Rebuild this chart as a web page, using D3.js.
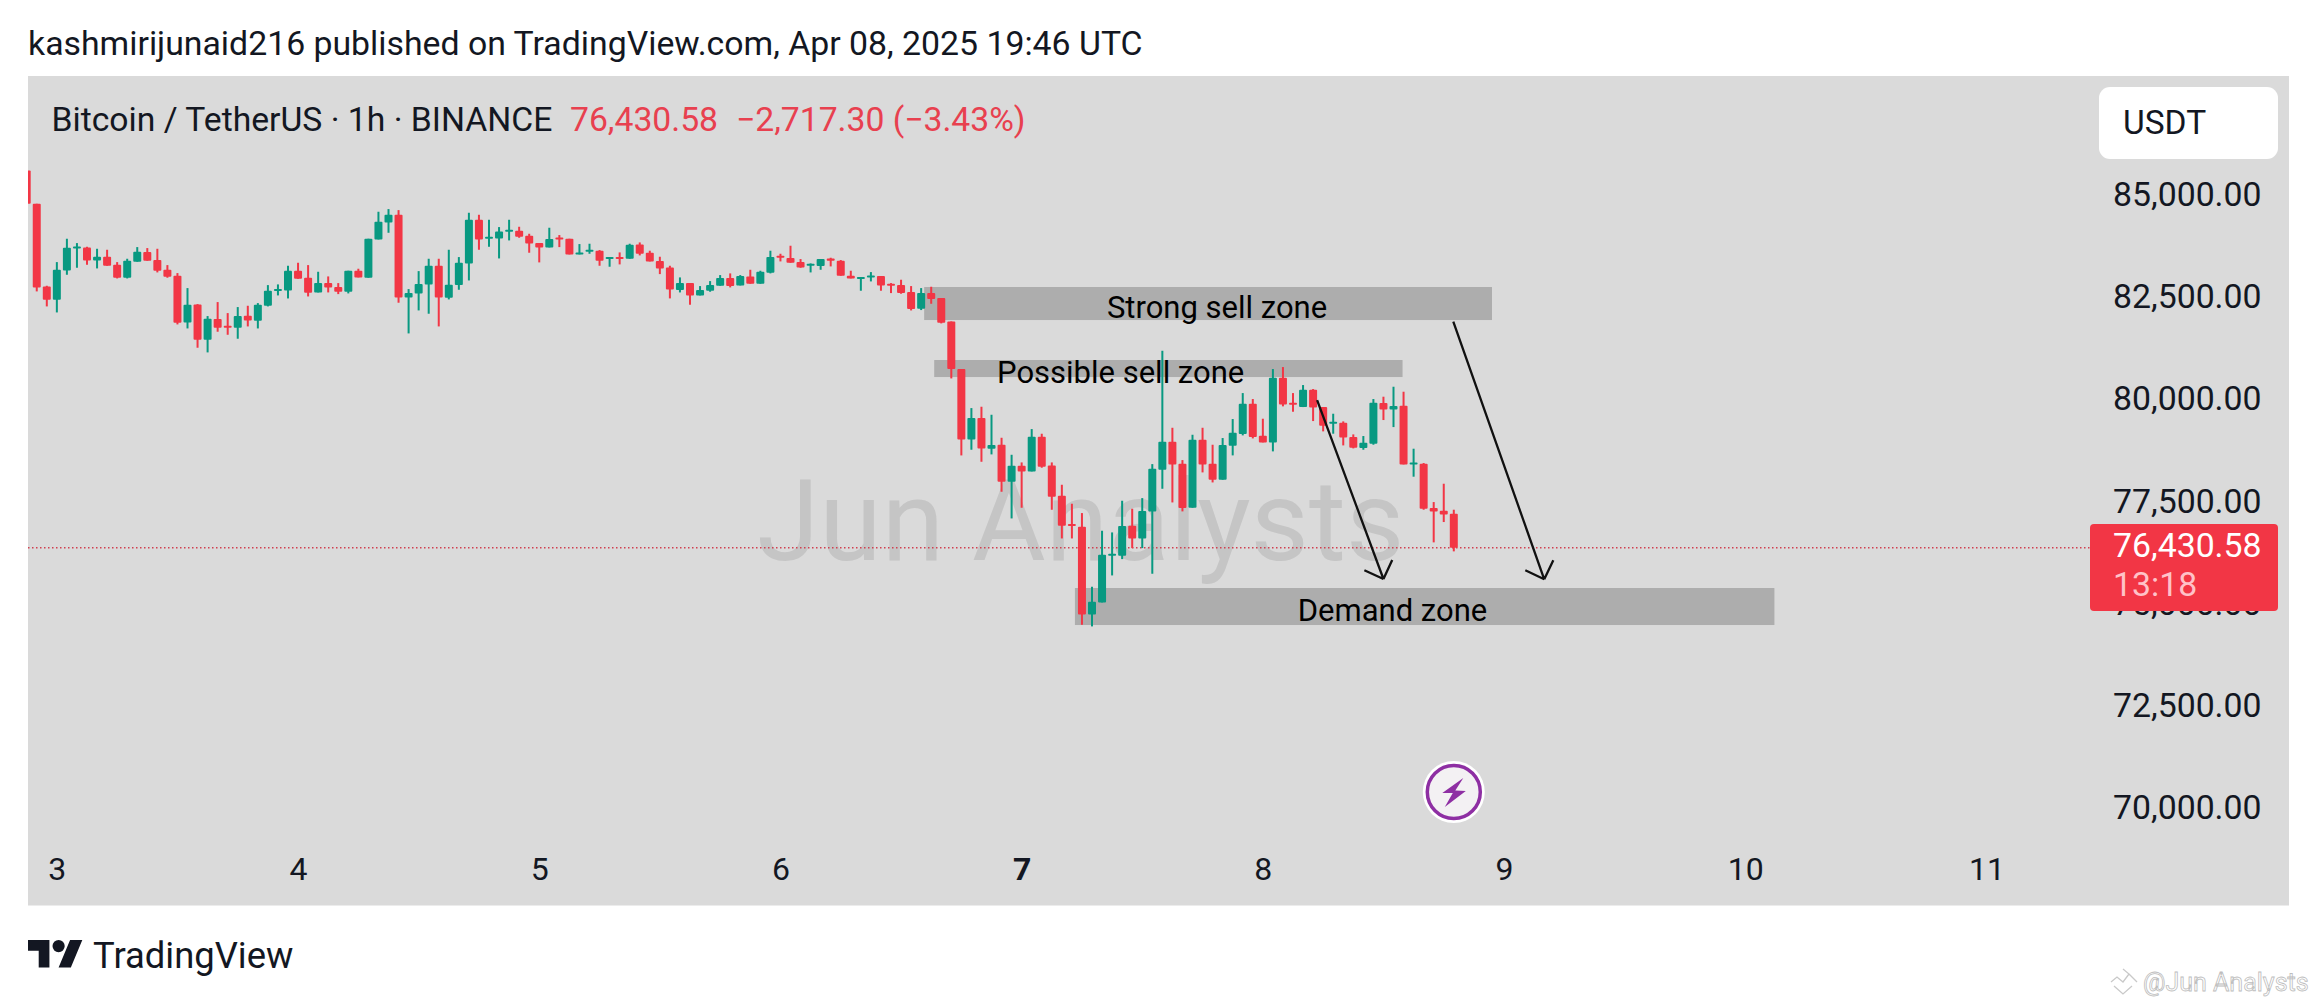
<!DOCTYPE html>
<html>
<head>
<meta charset="utf-8">
<script src="https://cdn.jsdelivr.net/npm/d3@7"></script>
<style>
  html, body { margin: 0; padding: 0; background: #fff; }
  svg { display: block; }
  text { font-family: Roboto, sans-serif; }
</style>
</head>
<body>
<script>
// hourly BTC/USDT candles, index 0 is the clipped one at the left edge
var opens = [85652,84837,82817,82491,83208,83745,83770,83452,83542,83346,83029,83420,83656,83460,83224,83077,81937,82377,81513,82018,
  81855,81807,82100,81978,82344,82711,82719,83200,83029,82670,82898,82800,82686,83200,83029,83965,84381,84568,82548,82646,
  82866,83322,82540,82849,83379,84446,83990,83990,84161,84178,84055,83876,83770,84015,83982,83599,83664,83689,83509,83534,
  83493,83843,83640,83436,83281,82727,82898,82597,82711,82833,83021,82841,83061,82882,83151,83566,83509,83412,83338,83314,
  83501,83444,83078,83021,83053,83070,82882,82850,82678,82271,82654,82532,81961,80796,79077,79599,78849,78947,78043,78434,
  78295,79142,78442,77700,77008,76943,74800,75093,76234,76234,76967,76657,77318,78336,79020,78482,77407,79069,78482,78092,
  78923,79208,79950,79168,79005,80585,79974,79868,80292,79868,79477,79485,79135,78866,78972,79966,79811,79901,78467,78483,
  77400,77335,77261];
var highs = [85652,84837,82833,83411,83982,83876,83786,83737,83713,83411,83493,83778,83754,83737,83338,83143,82776,82385,82092,82434,
  82165,82312,82344,82409,82849,82866,83322,83395,83338,83175,83061,82898,83200,83249,83982,84642,84707,84682,82752,83191,
  83493,83493,83713,83534,84617,84568,84446,84267,84446,84275,84104,83876,84251,84072,83982,83852,83860,83705,83534,83648,
  83860,83892,83689,83542,83322,83037,82898,82825,82947,83094,83135,83094,83224,83200,83689,83615,83811,83485,83379,83485,
  83518,83461,83200,83045,83167,83070,82898,82980,82825,82776,82809,82532,81961,80796,79843,79876,79680,79118,78702,78515,
  79330,79216,78515,77969,77505,77277,75476,76845,76804,77578,77383,77643,78474,81244,79362,78572,79191,79362,78947,79111,
  79575,80210,80064,79583,80797,80846,80210,80406,80308,79868,79705,79518,79200,79160,80064,80121,80365,80243,78850,78500,
  77546,77994,77359];
var lows = [84837,82695,82328,82181,83102,83273,83346,83257,83322,83012,83012,83420,83444,83159,83029,81888,81790,81318,81204,81709,
  81635,81538,81839,81790,82328,82597,82523,83004,82572,82670,82670,82629,82646,83037,83029,83965,84128,82418,81668,82230,
  82149,81839,82499,82735,82963,83713,83786,83501,83941,84006,83640,83404,83770,83778,83599,83599,83615,83322,83298,83355,
  83493,83575,83428,83118,82524,82670,82369,82597,82687,82833,82793,82841,82882,82882,83135,83428,83395,83273,83159,83224,
  83306,83078,83012,82711,82939,82711,82654,82638,82230,82239,82393,81913,80568,78686,78825,78531,78711,77798,77146,77407,
  78295,78385,77358,76657,76657,74547,74507,75093,75753,76152,76421,76421,75794,77871,77537,77318,77407,78271,78026,78092,
  78687,79176,79102,79005,78785,79885,79754,79868,79526,79274,79217,78931,78858,78825,78948,79551,79379,78467,78166,77359,
  76561,77058,76341];
var closes = [84837,82792,82491,83224,83762,83794,83452,83542,83322,83029,83444,83664,83444,83200,83053,81929,82369,81513,82026,81807,
  81807,82092,81986,82369,82711,82752,83200,83004,82662,82898,82792,82686,83200,83037,83982,84397,84568,82548,82654,82874,
  83322,82548,82857,83395,84446,83965,84031,84161,84202,84031,83868,83770,83974,83966,83599,83648,83713,83444,83534,83485,
  83835,83615,83428,83257,82744,82898,82597,82727,82850,83021,82825,83070,82882,83175,83534,83518,83395,83281,83371,83485,
  83444,83078,83012,83045,83086,82841,82850,82654,82263,82654,82507,81929,80796,79077,79599,78857,78939,78043,78434,78295,
  79142,78409,77676,76967,76967,74800,75110,76258,76283,76959,76657,77326,78360,79020,78466,77399,79069,78466,78091,78940,
  79241,79950,79135,79005,80585,79933,79933,80292,79860,79412,79510,79127,78874,78997,79974,79811,79893,78467,78516,77383,
  77318,77245,76430.58];

var priceTicks = [85000, 82500, 80000, 77500, 75000, 72500, 70000];
var dayLabels = ["3", "4", "5", "6", "7", "8", "9", "10", "11"];
var dayBars = [3, 27, 51, 75, 99, 123, 147, 171, 195];
var boldDay = "7";

// drawings on the chart, bar index and price
var zoneNames = ["Strong sell zone", "Possible sell zone", "Demand zone"];
var zoneFrom = [89.3, 90.3, 104.3];
var zoneTo = [145.8, 136.9, 173.9];
var zoneTop = [82802, 81018, 75445];
var zoneBottom = [81995, 80602, 74541];
var zoneLabelBar = [118.44, 108.85, 135.9];

var arrowFrom = [128.4, 141.95];
var arrowTo = [135, 151];
var arrowStart = [80040, 81954];
var arrowEnd = [75666, 75658];

var lastPrice = 76430.58;
var countdown = "13:18";

var w = 2317;
var h = 1004;
var red = "#f23645";
var green = "#089981";

var svg = d3.select("body").append("svg")
    .attr("width", w)
    .attr("height", h);

var x = d3.scaleLinear().domain([0, 142]).range([26.7, 1453.8]);
var y = d3.scaleLinear().domain([70000, 85000]).range([810.8, 197.1]);

//chart background
svg.append("rect")
    .attr("x", 28).attr("y", 76)
    .attr("width", 2261).attr("height", 829.5)
    .attr("fill", "#dadada");

svg.append("clipPath").attr("id", "pane")
  .append("rect")
    .attr("x", 28).attr("y", 76)
    .attr("width", 2062).attr("height", 780);

//header
svg.append("text")
    .attr("x", 28).attr("y", 55)
    .attr("font-size", 33.8)
    .attr("fill", "#131722")
    .text("kashmirijunaid216 published on TradingView.com, Apr 08, 2025 19:46 UTC");

svg.append("text")
    .attr("x", 51.5).attr("y", 131)
    .attr("font-size", 33.7)
    .attr("fill", "#131722")
    .text("Bitcoin / TetherUS · 1h · BINANCE");

svg.append("text")
    .attr("x", 570).attr("y", 131)
    .attr("font-size", 33.7)
    .attr("fill", "#e8404f")
    .text(d3.format(",.2f")(lastPrice));

svg.append("text")
    .attr("x", 736).attr("y", 131)
    .attr("font-size", 33.7)
    .attr("fill", "#e8404f")
    .text("−2,717.30 (−3.43%)");

//big watermark sits behind everything
svg.append("text")
    .attr("x", 757).attr("y", 560)
    .attr("font-size", 113)
    .attr("fill", "#c5c5c5")
    .text("Jun Analysts");

//zones
var zones = svg.append("g").attr("clip-path", "url(#pane)");
zoneNames.forEach(function(name, i) {
  zones.append("rect")
      .attr("x", x(zoneFrom[i]))
      .attr("y", y(zoneTop[i]))
      .attr("width", x(zoneTo[i]) - x(zoneFrom[i]))
      .attr("height", y(zoneBottom[i]) - y(zoneTop[i]))
      .attr("fill", "#adadad");
});

//last price line
svg.append("line")
    .attr("x1", 28).attr("x2", 2090)
    .attr("y1", y(lastPrice)).attr("y2", y(lastPrice))
    .attr("stroke", "#d04050")
    .attr("stroke-width", 1.5)
    .attr("stroke-dasharray", "1.5 2.5");

//candles
var candles = svg.append("g").attr("clip-path", "url(#pane)")
  .selectAll("g")
  .data(opens)
  .enter().append("g")
    .attr("fill", function(d, i) { return closes[i] >= d ? green : red; });

candles.append("rect")
    .attr("x", function(d, i) { return x(i) - 1; })
    .attr("width", 2)
    .attr("y", function(d, i) { return y(highs[i]); })
    .attr("height", function(d, i) { return y(lows[i]) - y(highs[i]); });

candles.append("rect")
    .attr("x", function(d, i) { return x(i) - 4; })
    .attr("width", 8)
    .attr("rx", 1)
    .attr("y", function(d, i) { return y(Math.max(d, closes[i])); })
    .attr("height", function(d, i) { return Math.max(2, Math.abs(y(d) - y(closes[i]))); });

//zone labels go over the candles
zoneNames.forEach(function(name, i) {
  svg.append("text")
      .attr("x", x(zoneLabelBar[i]))
      .attr("y", y((zoneTop[i] + zoneBottom[i]) / 2) + 14.5)
      .attr("text-anchor", "middle")
      .attr("font-size", 31)
      .attr("fill", "#000")
      .text(name);
});

//arrows
arrowFrom.forEach(function(d, i) {
  var x0 = x(d), y0 = y(arrowStart[i]), x1 = x(arrowTo[i]), y1 = y(arrowEnd[i]);
  var ang = Math.atan2(y0 - y1, x0 - x1);
  var head = d3.path();
  head.moveTo(x0, y0);
  head.lineTo(x1, y1);
  [-Math.PI / 4, Math.PI / 4].forEach(function(a) {
    head.moveTo(x1 + 21 * Math.cos(ang + a), y1 + 21 * Math.sin(ang + a));
    head.lineTo(x1, y1);
  });
  svg.append("path")
      .attr("d", head.toString())
      .attr("fill", "none")
      .attr("stroke", "#111")
      .attr("stroke-width", 2.3);
});

//price axis
var yAxis = svg.append("g")
    .attr("transform", "translate(2090,0)")
    .call(d3.axisRight(y)
      .tickValues(priceTicks)
      .tickSize(0)
      .tickPadding(23)
      .tickFormat(d3.format(",.2f")));
yAxis.select(".domain").remove();
yAxis.selectAll("text")
    .attr("dy", ".24em")
    .attr("font-family", "Roboto, sans-serif")
    .attr("font-size", 33.8)
    .attr("fill", "#131722");

//time axis
var xAxis = svg.append("g")
    .attr("transform", "translate(0,857)")
    .call(d3.axisBottom(x)
      .tickValues(dayBars)
      .tickSize(0)
      .tickPadding(0)
      .tickFormat(function(d, i) { return dayLabels[i]; }));
xAxis.select(".domain").remove();
xAxis.selectAll("text")
    .attr("font-family", "Roboto, sans-serif")
    .attr("font-size", 32)
    .attr("font-weight", function(d, i) { return dayLabels[i] == boldDay ? 700 : 400; })
    .attr("fill", "#131722");

//currency button
svg.append("rect")
    .attr("x", 2099).attr("y", 87)
    .attr("width", 179).attr("height", 72)
    .attr("rx", 11)
    .attr("fill", "#fff");
svg.append("text")
    .attr("x", 2123).attr("y", 134)
    .attr("font-size", 33.5)
    .attr("fill", "#131722")
    .text("USDT");

//last price tag
svg.append("rect")
    .attr("x", 2090).attr("y", 524)
    .attr("width", 188).attr("height", 87)
    .attr("rx", 4)
    .attr("fill", red);
svg.append("text")
    .attr("x", 2113).attr("y", 556.5)
    .attr("font-size", 33.8)
    .attr("fill", "#fff")
    .text(d3.format(",.2f")(lastPrice));
svg.append("text")
    .attr("x", 2113).attr("y", 596)
    .attr("font-size", 33.8)
    .attr("fill", "#ffc2c8")
    .text(countdown);

//lightning badge under the last candle
var badge = svg.append("g")
    .attr("transform", "translate(" + x(142) + ",792)");
badge.append("circle").attr("r", 31).attr("fill", "#fff");
badge.append("circle")
    .attr("r", 26.5)
    .attr("fill", "#f3f1f3")
    .attr("stroke", "#8e2fa3")
    .attr("stroke-width", 3.5);
badge.append("path")
    .attr("d", "M9.5,-14 L-11.5,1 L-1,1 L-9,15 L12,-1 L1.5,-1.5 Z")
    .attr("fill", "#8e2fa3");

//TradingView logo and name
svg.append("path")
    .attr("transform", "translate(28,940) scale(1.53)")
    .attr("d", "M14 18H7V7H0V0h14v18zM28 18h-8L27.5 0h8L28 18z")
    .attr("fill", "#131722");
svg.append("circle")
    .attr("cx", 28 + 1.53 * 20).attr("cy", 940 + 1.53 * 4)
    .attr("r", 1.53 * 4)
    .attr("fill", "#131722");
svg.append("text")
    .attr("x", 93).attr("y", 968)
    .attr("font-size", 36.4)
    .attr("fill", "#131722")
    .text("TradingView");

//faint corner mark
var mark = svg.append("g")
    .attr("fill", "none")
    .attr("stroke", "#c9c9c9")
    .attr("stroke-width", 1.3);
mark.append("path").attr("d", "M2111,982 l6,-5 l6,5 l6,-8 l-6,-5 M2129,974 l8,8 M2114,986 l9,8 l9,-8");
svg.append("text")
    .attr("x", 2143).attr("y", 991)
    .attr("font-size", 25)
    .attr("fill", "#fff")
    .attr("stroke", "#bdbdbd")
    .attr("stroke-width", 0.8)
    .text("@Jun Analysts");
</script>
</body>
</html>
